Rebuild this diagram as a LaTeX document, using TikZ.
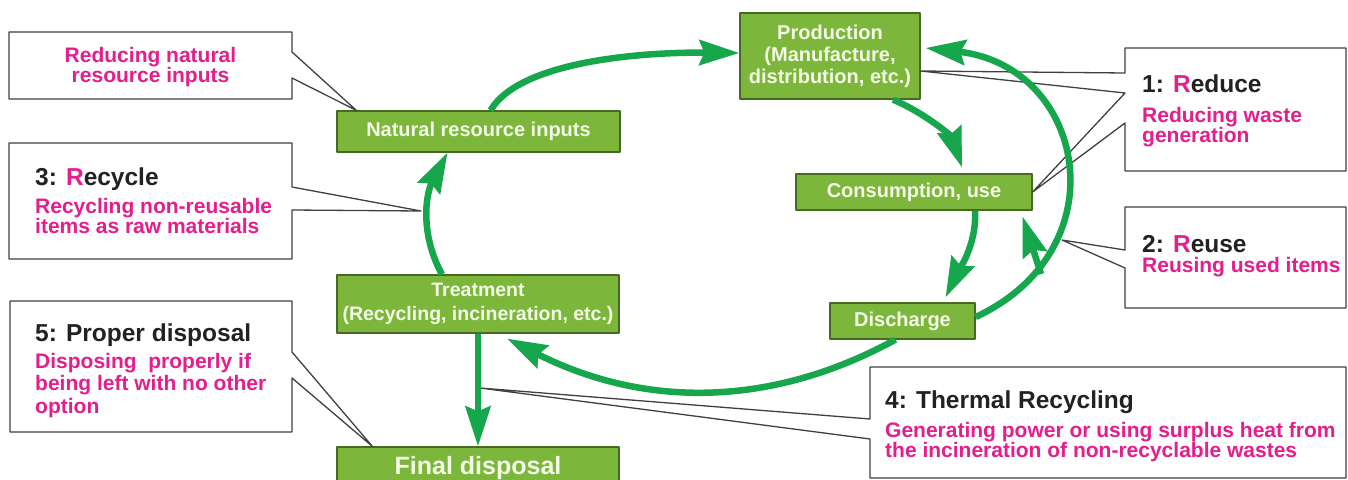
\documentclass[tikz,border=0pt]{standalone}
\usepackage{fontspec}
\setmainfont{Liberation Sans}
\usetikzlibrary{arrows.meta}
\definecolor{stagefill}{RGB}{124,183,60}
\definecolor{stageline}{RGB}{72,104,38}
\definecolor{stagetext}{RGB}{244,250,232}
\definecolor{flowgreen}{RGB}{22,166,76}
\definecolor{notepink}{RGB}{228,30,140}
\definecolor{leadgray}{RGB}{34,34,34}
\definecolor{bubbleline}{RGB}{64,64,64}
\newcommand{\stagefont}{\fontsize{20}{22}\selectfont\bfseries}
\newcommand{\leadfont}{\fontsize{24.5}{27}\selectfont\bfseries}
\newcommand{\notefont}{\fontsize{21}{20.5}\selectfont\bfseries}
\newcommand{\pinkR}{\textcolor{notepink}{R}}
\begin{document}
\begin{tikzpicture}[x=1pt, y=-1pt, line join=round,
	stage/.style={draw=stageline, fill=stagefill, line width=1.2pt, text=stagetext, font=\stagefont, align=center, inner sep=0pt},
	flow/.style={draw=flowgreen, line width=6.5pt, -{Stealth[length=40pt, width=25pt, inset=5pt]}},
	bubble/.style={draw=bubbleline, fill=white, line width=1.3pt},
	lead/.style={font=\leadfont, text=leadgray, anchor=base west, inner sep=0pt},
	note/.style={font=\notefont, text=notepink, anchor=north west, align=left, inner sep=0pt}]
	\useasboundingbox (0,0) rectangle (1348,479);
	%
	% the cycle
	\node [stage, minimum width=283pt, minimum height=41pt] (nat) at (478.5,131.5) {Natural resource inputs};
	\node [stage, minimum width=180pt, minimum height=86pt] (prod) at (830,56) {Production\\(Manufacture,\\distribution, etc.)};
	\node [stage, minimum width=236pt, minimum height=36pt] (cons) at (914,192) {Consumption, use};
	\node [stage, minimum width=145pt, minimum height=36pt] (disc) at (902.5,321) {Discharge};
	\node [stage, minimum width=282pt, minimum height=58pt, font={\fontsize{19.5}{24}\selectfont\bfseries}] (treat) at (478,304) {Treatment\\(Recycling, incineration, etc.)};
	\node [stage, minimum width=282pt, minimum height=42pt, font={\fontsize{25}{27}\selectfont\bfseries}] (final) at (478,468) {Final disposal};
	%
	\coordinate (recyc) at (421,211);
	\coordinate (arcpt) at (1062,240);
	\coordinate (reuse) at (1041,274);
	\coordinate (thermal) at (480,388);
	%
	% callouts
	\draw [bubble] (9,32) -- (292,32) -- (292,52) -- ([xshift=20pt]nat.north west) -- (292,78) -- (292,99) -- (9,99) -- cycle;
	\draw [bubble] (9,143) -- (292,143) -- (292,187) -- (recyc) -- (292,210) -- (292,259) -- (9,259) -- cycle;
	\draw [bubble] (10,301) -- (292,301) -- (292,352) -- ([xshift=36pt]final.north west) -- (292,378) -- (292,432) -- (10,432) -- cycle;
	\draw [bubble] (1346,48) -- (1125,48) -- (1125,73) -- ([yshift=-15pt]prod.east) -- (1125,93) -- (cons.east) -- (1125,123) -- (1125,171) -- (1346,171) -- cycle;
	\draw [bubble] (1346,207) -- (1125,207) -- (1125,250) -- (arcpt) -- (1125,268) -- (1125,308) -- (1346,308) -- cycle;
	\draw [bubble] (1346,367) -- (870,367) -- (870,419) -- (thermal) -- (870,439) -- (870,478) -- (1346,478) -- cycle;
	%
	\node [note, align=center, anchor=north] (n0) at (150.5,47) {Reducing natural\\resource inputs};
	\node [lead] (l1) at (1142,92) {1: \pinkR educe};
	\node [note] (n1) at (1142,107) {Reducing waste\\generation};
	\node [lead] (l2) at (1142,252) {2: \pinkR euse};
	\node [note] (n2) at (1142,257) {Reusing used items};
	\node [lead] (l3) at (35,185) {3: \pinkR ecycle};
	\node [note] (n3) at (35,198) {Recycling non-reusable\\items as raw materials};
	\node [lead] (l4) at (885,408) {4: Thermal Recycling};
	\node [note] (n4) at (885,422) {Generating power or using surplus heat from\\the incineration of non-recyclable wastes};
	\node [lead] (l5) at (35,341) {5: Proper disposal};
	\node [note, font={\fontsize{21}{22.5}\selectfont\bfseries}] (n5) at (35,353) {Disposing\ \ properly if\\being left with no other\\option};
	%
	% arrows
	\draw [flow] ([xshift=12pt]nat.north) .. controls +(30,-51) and +(-90,-1) .. ([yshift=3pt]prod.west);
	\draw [flow] ([xshift=63pt]prod.south) .. controls +(35,15) and +(-10,-30) .. ([xshift=48pt,yshift=6pt]cons.north);
	\draw [flow] ([xshift=61pt]cons.south) .. controls +(2,35) and +(12,-25) .. ([xshift=43pt,yshift=5pt]disc.north);
	\draw [flow] ([yshift=4pt]disc.east) .. controls +(146,-68) and +(160,18) .. ([xshift=5pt,yshift=8pt]prod.east);
	\draw [flow] (reuse) -- ([xshift=-10pt,yshift=-6pt]cons.south east);
	\draw [flow] ([xshift=-7pt]disc.south) .. controls +(-130,71) and +(132,67) .. ([xshift=29pt,yshift=-5pt]treat.south);
	\draw [flow] ([xshift=-36pt]treat.north) .. controls +(-22,-40) and +(-22,42) .. ([xshift=-31pt]nat.south);
	\draw [flow] (treat.south) -- (final.north);
\end{tikzpicture}
\end{document}
